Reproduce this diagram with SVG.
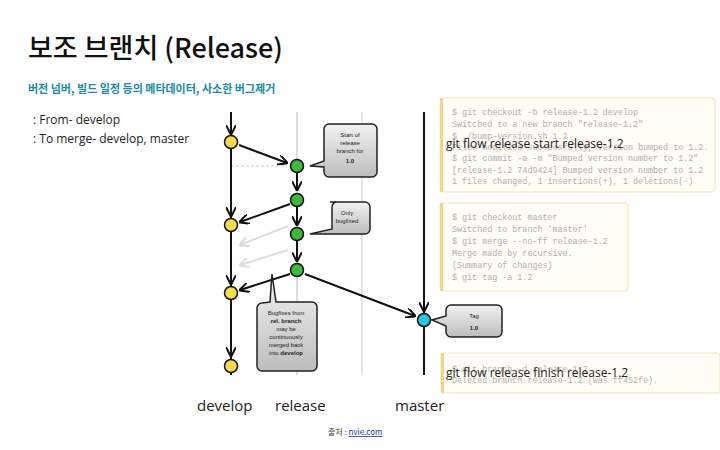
<svg xmlns="http://www.w3.org/2000/svg" width="720" height="450" viewBox="0 0 720 450">
<defs>
<marker id="ah" viewBox="0 0 10 10" refX="9" refY="5" markerWidth="5" markerHeight="5" orient="auto"><path d="M0,0 L10,5 L0,10" fill="none" stroke="#111" stroke-width="2"/></marker>
<marker id="ahg" viewBox="0 0 10 10" refX="9" refY="5" markerWidth="5" markerHeight="5" orient="auto"><path d="M0,0 L10,5 L0,10" fill="none" stroke="#ddd" stroke-width="2"/></marker>
<linearGradient id="gb" x1="0" y1="0" x2="0" y2="1"><stop offset="0" stop-color="#f2f2f2"/><stop offset="1" stop-color="#bdbdbd"/></linearGradient>
</defs>
<style>
.code{font-family:"Liberation Mono",monospace;font-size:8.4px;fill:#b0b0b0}
.cb{fill:#fffdf6;stroke:#f3e4b8;stroke-width:1}
.cbar{fill:#f0d58a}
.bub{fill:url(#gb);stroke:#222;stroke-width:1.5}
.bt{font-family:"Liberation Sans",sans-serif;font-size:6px;fill:#222;text-anchor:middle}
.ln{stroke:#111;stroke-width:2;fill:none}
.y{fill:#f5dd4a;stroke:#111;stroke-width:1.5}
.g{fill:#3db83d;stroke:#111;stroke-width:1.5}
.lbl{font-family:"Open Sans",sans-serif;fill:#222}
</style>
<rect width="720" height="450" fill="#fff"/>
<text x="28" y="58" font-family="Noto Sans CJK KR,sans-serif" font-size="27" font-weight="500" fill="#111">보조 브랜치 (Release)</text>
<text x="28" y="93" font-family="Noto Sans CJK KR,sans-serif" font-size="11" font-weight="bold" fill="#1a8aa6">버전 넘버, 빌드 일정 등의 메타데이터, 사소한 버그제거</text>
<text x="33" y="124" class="lbl" font-size="12" fill="#555">: From- develop</text>
<text x="33" y="143" class="lbl" font-size="12" fill="#555">: To merge- develop, master</text>
<g id="lanes">
<line x1="297" y1="112" x2="297" y2="375" stroke="#ddd" stroke-width="2"/>
<line x1="362" y1="112" x2="362" y2="375" stroke="#e6e6e6" stroke-width="2"/>
<line x1="231" y1="112" x2="231" y2="375" class="ln"/>
<line x1="424" y1="112" x2="424" y2="375" class="ln"/>
</g>
<g id="connectors">
<line x1="231" y1="112" x2="231" y2="134" class="ln" marker-end="url(#ah)"/>
<line x1="239" y1="145" x2="287" y2="163" class="ln" marker-end="url(#ah)"/>
<line x1="231" y1="166" x2="287" y2="166" stroke="#ccc" stroke-dasharray="3,2"/>
<line x1="297" y1="172" x2="297" y2="190" class="ln" marker-end="url(#ah)"/>
<line x1="290" y1="204" x2="240" y2="222" class="ln" marker-end="url(#ah)"/>
<line x1="231" y1="150" x2="231" y2="216" class="ln" marker-end="url(#ah)"/>
<line x1="297" y1="207" x2="297" y2="225" class="ln" marker-end="url(#ah)"/>
<line x1="288" y1="226" x2="240" y2="245" stroke="#ddd" stroke-width="2" marker-end="url(#ahg)"/>
<line x1="297" y1="241" x2="297" y2="261" class="ln" marker-end="url(#ah)"/>
<line x1="288" y1="250" x2="240" y2="265" stroke="#ddd" stroke-width="2" marker-end="url(#ahg)"/>
<line x1="290" y1="274" x2="240" y2="290" class="ln" marker-end="url(#ah)"/>
<line x1="231" y1="233" x2="231" y2="284" class="ln" marker-end="url(#ah)"/>
<line x1="305" y1="274" x2="415" y2="316" class="ln" marker-end="url(#ah)"/>
<line x1="424" y1="112" x2="424" y2="311" class="ln" marker-end="url(#ah)"/>
<line x1="231" y1="301" x2="231" y2="356" class="ln" marker-end="url(#ah)"/>
</g>
<g id="nodes">
<circle cx="231" cy="142" r="6.5" class="y"/>
<circle cx="231" cy="225" r="6.5" class="y"/>
<circle cx="231" cy="293" r="6.5" class="y"/>
<circle cx="231" cy="366" r="6.5" class="y"/>
<circle cx="297" cy="166" r="6.5" class="g"/>
<circle cx="297" cy="200" r="6.5" class="g"/>
<circle cx="297" cy="234" r="6.5" class="g"/>
<circle cx="297" cy="270" r="6.5" class="g"/>
<circle cx="424" cy="320" r="6.5" fill="#22c8e0" stroke="#111" stroke-width="1.5"/>
</g>
<g id="bubble-start">
<path d="M329,124 h43 a5,5 0 0 1 5,5 v43 a5,5 0 0 1 -5,5 h-43 a5,5 0 0 1 -5,-5 v-5 l-14,-1 l14,-5 v-32 a5,5 0 0 1 5,-5z" class="bub"/>
<text x="350" y="137" class="bt">Start of</text><text x="350" y="145" class="bt">release</text><text x="350" y="153" class="bt">branch for</text><text x="350" y="163" class="bt" font-weight="bold" font-size="7">1.0</text>
</g>
<g id="bubble-only">
<path d="M330,202 h35 a5,5 0 0 1 5,5 v22 a5,5 0 0 1 -5,5 h-27 l-28,0 l22,-5 v-22 a5,5 0 0 1 5,-5z" class="bub"/>
<text x="347" y="215" class="bt">Only</text><text x="347" y="223" class="bt">bugfixed</text>
</g>
<g id="bubble-bugfix">
<path d="M262,303 l8,-1 l2,-28 l4,28 h36 a5,5 0 0 1 5,5 v59 a5,5 0 0 1 -5,5 h-50 a5,5 0 0 1 -5,-5 v-58 a5,5 0 0 1 5,-5z" class="bub"/>
<text x="286" y="315" class="bt">Bugfixes from</text><text x="286" y="323" class="bt" font-weight="bold">rel. branch</text><text x="286" y="331" class="bt">may be</text><text x="286" y="339" class="bt">continuously</text><text x="286" y="347" class="bt">merged back</text><text x="286" y="355" class="bt">into <tspan font-weight="bold">develop</tspan></text>
</g>
<g id="bubble-tag">
<path d="M451,305 h46 a5,5 0 0 1 5,5 v22 a5,5 0 0 1 -5,5 h-46 a5,5 0 0 1 -5,-5 v-6 l-14,-6 l14,-4 v-6 a5,5 0 0 1 5,-5z" class="bub"/>
<text x="474" y="318" class="bt">Tag</text><text x="474" y="330" class="bt" font-weight="bold" font-size="9">1.0</text>
</g>
<g id="code1">
<rect x="440" y="98" width="275" height="94" rx="3" class="cb"/><rect x="440" y="98" width="3" height="94" class="cbar"/>
<text x="452" y="115" class="code">$ git checkout -b release-1.2 develop</text>
<text x="452" y="127" class="code">Switched to a new branch "release-1.2"</text>
<text x="452" y="139" class="code">$ ./bump-version.sh 1.2</text>
<text x="452" y="150" class="code">Files modified successfully, version bumped to 1.2.</text>
<text x="452" y="161" class="code">$ git commit -a -m "Bumped version number to 1.2"</text>
<text x="452" y="173" class="code">[release-1.2 74d9424] Bumped version number to 1.2</text>
<text x="452" y="184" class="code">1 files changed, 1 insertions(+), 1 deletions(-)</text>
<text x="446" y="148" class="lbl" font-size="12">git flow release start release-1.2</text>
</g>
<g id="code2">
<rect x="440" y="203" width="188" height="88" rx="3" class="cb"/><rect x="440" y="203" width="3" height="88" class="cbar"/>
<text x="452" y="220" class="code">$ git checkout master</text>
<text x="452" y="232" class="code">Switched to branch 'master'</text>
<text x="452" y="244" class="code">$ git merge --no-ff release-1.2</text>
<text x="452" y="256" class="code">Merge made by recursive.</text>
<text x="452" y="268" class="code">(Summary of changes)</text>
<text x="452" y="280" class="code">$ git tag -a 1.2</text>
</g>
<g id="code3">
<rect x="441" y="353" width="279" height="40" rx="3" class="cb"/><rect x="441" y="353" width="3" height="40" class="cbar"/>
<text x="452" y="372" class="code">$ git branch -d release-1.2</text>
<text x="452" y="383" class="code">Deleted branch release-1.2 (was ff452fe).</text>
<text x="446" y="377" class="lbl" font-size="12">git flow release finish release-1.2</text>
</g>
<text x="197" y="411" class="lbl" font-size="15">develop</text>
<text x="275" y="411" class="lbl" font-size="15">release</text>
<text x="395" y="411" class="lbl" font-size="15">master</text>
<text x="328" y="435" font-family="Noto Sans CJK KR,sans-serif" font-size="8" fill="#444">출처 : <tspan fill="#1a3aa6" text-decoration="underline">nvie.com</tspan></text>
</svg>
